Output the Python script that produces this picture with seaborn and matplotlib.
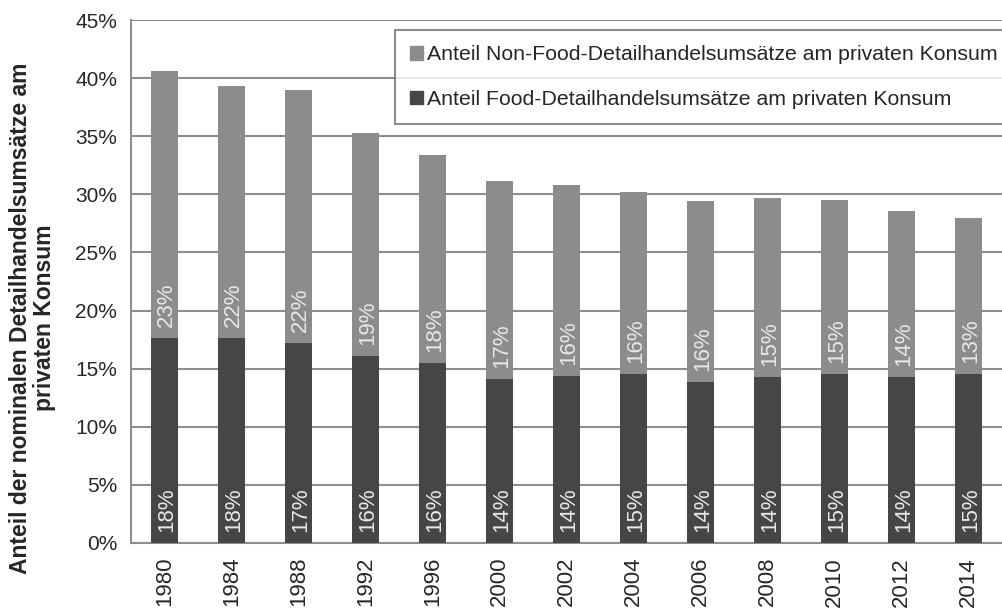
import pandas as pd
import matplotlib
matplotlib.use("Agg")
import matplotlib.pyplot as plt
from matplotlib import ticker
from matplotlib.patches import Patch
import seaborn as sns

# Daten
jahre = ["1980", "1984", "1988", "1992", "1996", "2000", "2002",
         "2004", "2006", "2008", "2010", "2012", "2014"]
food = [17.67, 17.67, 17.24, 16.09, 15.52, 14.14, 14.35,
        14.55, 13.83, 14.31, 14.55, 14.31, 14.55]
nonfood = [22.95, 21.66, 21.77, 19.22, 17.87, 17.01, 16.45,
           15.63, 15.58, 15.38, 15.0, 14.26, 13.39]

lbl_nonfood = "Anteil Non-Food-Detailhandelsumsätze am privaten Konsum"
lbl_food = "Anteil Food-Detailhandelsumsätze am privaten Konsum"

df = pd.DataFrame({"jahr": jahre, "food": food, "nonfood": nonfood})
df["total"] = df["food"] + df["nonfood"]

sns.set_style("white")
plt.rcParams["font.family"] = ["Liberation Sans", "DejaVu Sans"]

c_food = "#464646"
c_nonfood = "#8c8c8c"
c_grid = "#8e8e8e"

fig = plt.figure(figsize=(10.02, 6.11), dpi=100)
ax = fig.add_axes([131 / 1002, 1 - 543 / 611, 1 - 131 / 1002, (543 - 20) / 611])

sns.barplot(data=df, x="jahr", y="total", color=c_nonfood, width=0.39,
            saturation=1, linewidth=0, ax=ax, zorder=3)
sns.barplot(data=df, x="jahr", y="food", color=c_food, width=0.39,
            saturation=1, linewidth=0, ax=ax, zorder=4)

# Beschriftungen in den Balken
for i, r in df.iterrows():
    ax.annotate(f"{round(r['food']):.0f}%", (i + 0.03, 0), xytext=(0, 8),
                textcoords="offset points", rotation=90, ha="center",
                va="bottom", color="#e8e8e8", fontsize=16, zorder=5)
    ax.annotate(f"{round(r['nonfood']):.0f}%", (i + 0.03, r["food"]), xytext=(0, 8),
                textcoords="offset points", rotation=90, ha="center",
                va="bottom", color="#e8e8e8", fontsize=16, zorder=5)

ax.set_ylim(0, 45)
ax.set_xlim(-0.5, len(jahre) - 0.5)
ax.yaxis.set_major_locator(ticker.MultipleLocator(5))
ax.yaxis.set_major_formatter(ticker.FuncFormatter(lambda v, p: f"{v:.0f}%"))
ax.yaxis.grid(True, color=c_grid, linewidth=1.5, zorder=0)
ax.set_axisbelow(True)

ax.set_xticks(range(len(jahre)))
ax.set_xticklabels(jahre, rotation=90)
ax.xaxis.set_minor_locator(ticker.FixedLocator([i - 0.5 for i in range(len(jahre) + 1)]))
ax.tick_params(axis="x", which="major", length=0, labelsize=16, pad=10)
ax.tick_params(axis="x", which="minor", length=6, width=1.5, color=c_grid, direction="out")
ax.tick_params(axis="y", length=6, width=1.5, color=c_grid, direction="out",
               labelsize=15, pad=4)

for s in ["top", "right"]:
    ax.spines[s].set_visible(False)
for s in ["left", "bottom"]:
    ax.spines[s].set_color(c_grid)
    ax.spines[s].set_linewidth(1.5)

ax.set_xlabel("")
ax.set_ylabel("Anteil der nominalen Detailhandelsumsätze am\nprivaten Konsum",
              fontsize=16.5, fontweight="bold", linespacing=1.05)
ax.yaxis.set_label_coords(-0.086, 0.43)

handles = [Patch(color=c_nonfood), Patch(color=c_food)]
leg = ax.legend(handles, [lbl_nonfood, lbl_food], loc="upper right",
                bbox_to_anchor=(1.012, 0.98), fontsize=15.3, frameon=True,
                fancybox=False, handlelength=0.6, handleheight=0.6,
                handletextpad=0.2, labelspacing=1.2, borderpad=0.7,
                borderaxespad=0)
leg.get_frame().set_edgecolor("#6e6e6e")
leg.get_frame().set_linewidth(1.5)

fig.savefig("out.png", dpi=100)
